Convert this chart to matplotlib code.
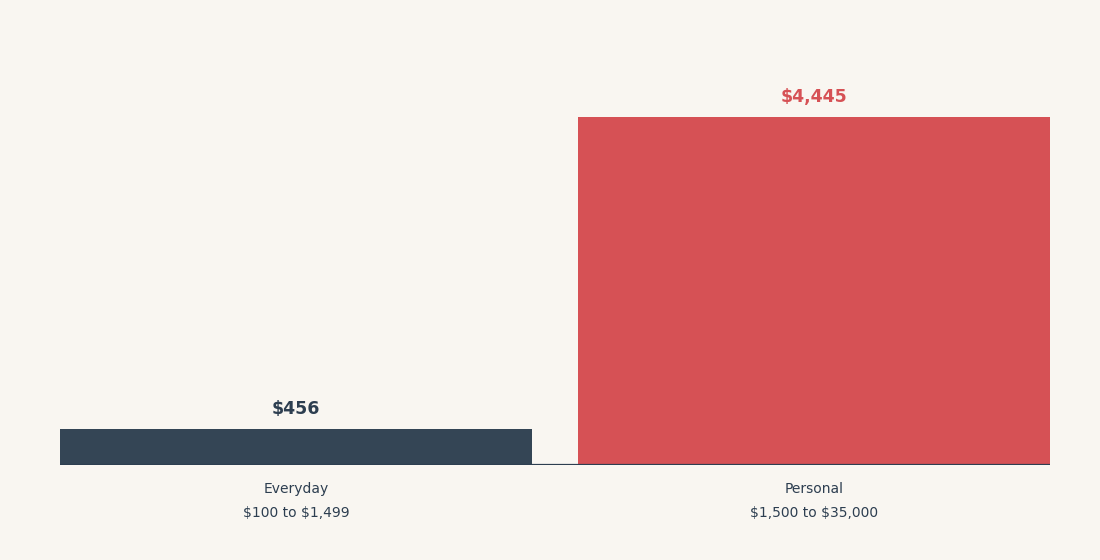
import matplotlib.pyplot as plt

# data
categories = ['Everyday', 'Personal']
ranges = ['$100 to $1,499', '$1,500 to $35,000']
values = [456, 4445]
value_labels = ['$456', '$4,445']
colors = ['#344555', '#d65155']

bg = '#f9f6f1'
dark = '#2d3e50'

fig = plt.figure(figsize=(11, 5.6), dpi=100, facecolor=bg)
ax = fig.add_axes([60 / 1100, 95 / 560, 990 / 1100, 425 / 560])
ax.set_facecolor(bg)

x = list(range(len(categories)))
ax.bar(x, values, width=472 / 518, color=colors, zorder=2)
ax.axhline(0, color=dark, lw=1.6, zorder=3)

for xi, v, lab, c in zip(x, values, value_labels, colors):
    ax.annotate(lab, (xi, v), xytext=(0, 8), textcoords='offset points',
                ha='center', va='bottom', fontsize=12.5, fontweight='bold',
                color=c if xi == 1 else dark)

ax.set_xlim(-236 / 518, 1 + 236 / 518)
ax.set_ylim(0, 4445 * 425 / 348)
ax.set_xticks(x)
ax.set_xticklabels([c + '\n' + r.replace('$', r'\$') for c, r in zip(categories, ranges)],
                   fontsize=10, color=dark, linespacing=1.9)
ax.tick_params(axis='x', length=0, pad=12)
ax.set_yticks([])
for s in ax.spines.values():
    s.set_visible(False)

plt.savefig('out.png', facecolor=bg)
